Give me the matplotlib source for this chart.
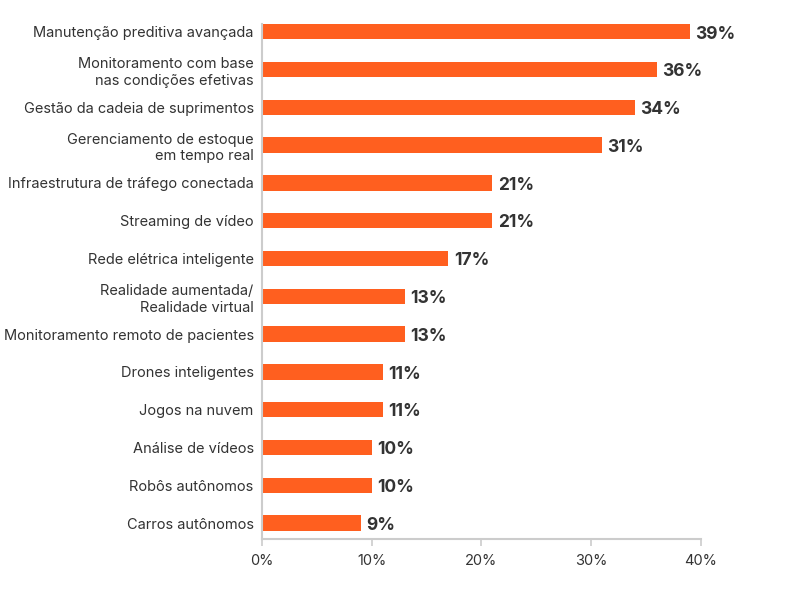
import matplotlib
matplotlib.use('Agg')
import matplotlib.pyplot as plt

categories = [
    'Manutenção preditiva avançada',
    'Monitoramento com base\nnas condições efetivas',
    'Gestão da cadeia de suprimentos',
    'Gerenciamento de estoque\nem tempo real',
    'Infraestrutura de tráfego conectada',
    'Streaming de vídeo',
    'Rede elétrica inteligente',
    'Realidade aumentada/\nRealidade virtual',
    'Monitoramento remoto de pacientes',
    'Drones inteligentes',
    'Jogos na nuvem',
    'Análise de vídeos',
    'Robôs autônomos',
    'Carros autônomos',
]
values = [39, 36, 34, 31, 21, 21, 17, 13, 13, 11, 11, 10, 10, 9]
xticks = [0, 10, 20, 30, 40]

plt.rcParams['font.family'] = ['Inter', 'DejaVu Sans']

fig = plt.figure(figsize=(8, 6), dpi=100)
ax = fig.add_axes([0.3275, 0.1017, 0.876 - 0.3275, 0.96 - 0.1017])

y = range(len(categories))
ax.barh(y, values, height=0.41, color='#FF5F1F', edgecolor='none')
for i, v in zip(y, values):
    ax.text(v + 0.5, i + 0.06, f'{v}%', va='center', ha='left',
            fontsize=12.5, fontweight='bold', color='#333333')

ax.set_ylim(13.42, -0.205)
ax.set_xlim(0, 40)
ax.set_yticks(list(y))
ax.set_yticklabels(categories, fontsize=10.5, color='#333333', ha='right',
                   linespacing=1.25)
ax.set_xticks(xticks)
ax.set_xticklabels([f'{t}%' for t in xticks], fontsize=10.5, color='#333333')
ax.tick_params(axis='y', length=0, pad=6)
ax.tick_params(axis='x', length=5, color='#cccccc', width=1.2, pad=6)

for s in ['top', 'right']:
    ax.spines[s].set_visible(False)
for s in ['left', 'bottom']:
    ax.spines[s].set_color('#cccccc')
    ax.spines[s].set_linewidth(1.5)

fig.savefig('out.png', dpi=100)
